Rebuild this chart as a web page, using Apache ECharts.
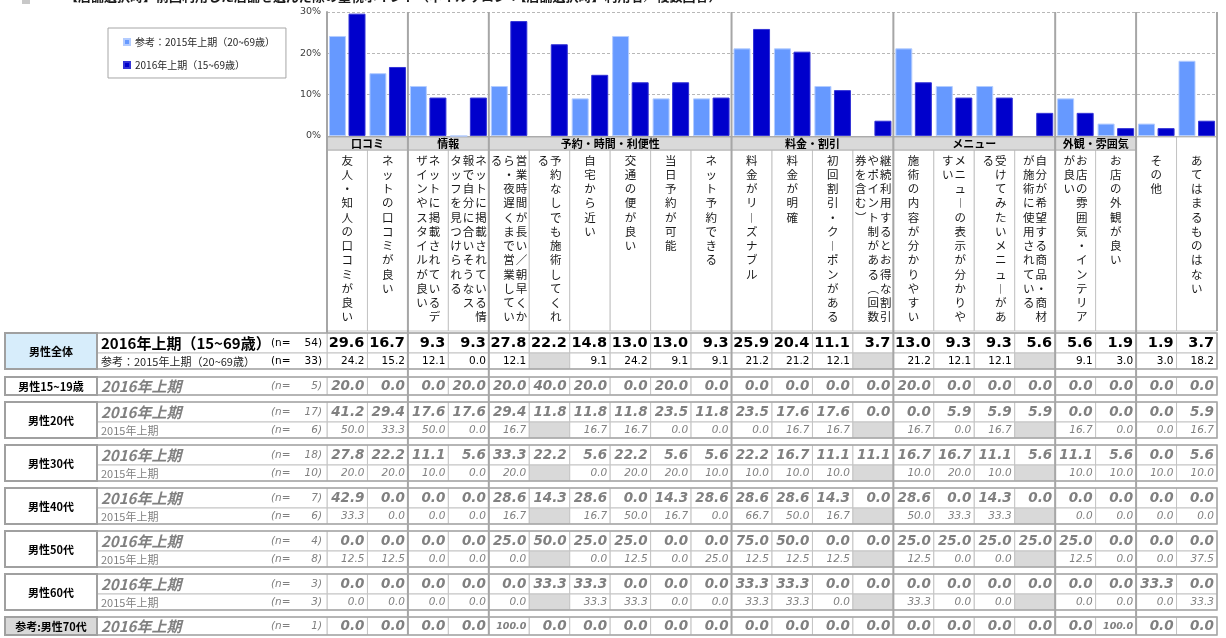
<!DOCTYPE html>
<html>
<head>
<meta charset="utf-8">
<title>店舗選択時に重視したポイント（男性）</title>
<script src="https://cdn.jsdelivr.net/npm/echarts@6/dist/echarts.min.js"></script>
<style>
  html, body { margin: 0; padding: 0; background: #fff; }
  #chart { width: 1226px; height: 638px; }
</style>
</head>
<body>
<div id="chart"></div>
<script>
// 項目（22）
var categories = [
  '友人・知人の口コミが良い',
  'ネットの口コミが良い',
  'ネットに掲載されているデザインやスタイルが良い',
  'ネットに掲載されている情報で自分に合いそうなスタッフを見つけられる',
  '営業時間が長い／朝早くから・夜遅くまで営業している',
  '予約なしでも施術してくれる',
  '自宅から近い',
  '交通の便が良い',
  '当日予約が可能',
  'ネット予約できる',
  '料金がリーズナブル',
  '料金が明確',
  '初回割引・クーポンがある',
  '継続利用するとお得な割引やポイント制がある（回数券を含む）',
  '施術の内容が分かりやすい',
  'メニューの表示が分かりやすい',
  '受けてみたいメニューがある',
  '自分が希望する商品・商材が施術に使用されている',
  'お店の雰囲気・インテリアが良い',
  'お店の外観が良い',
  'その他',
  'あてはまるものはない'
];
// 大項目と項目数（最後の2項目は見出しなし）
var groupNames = ['口コミ', '情報', '予約・時間・利便性', '料金・割引', 'メニュー', '外観・雰囲気', ''];
var groupSizes = [2, 2, 6, 4, 4, 2, 2];

var seriesNames = ['参考：2015年上期（20~69歳）', '2016年上期（15~69歳）'];
var yTicks = [0, 10, 20, 30];

// 男性全体
var all2016 = [29.6, 16.7, 9.3, 9.3, 27.8, 22.2, 14.8, 13.0, 13.0, 9.3, 25.9, 20.4, 11.1, 3.7, 13.0, 9.3, 9.3, 5.6, 5.6, 1.9, 1.9, 3.7];
var all2015 = [24.2, 15.2, 12.1, 0.0, 12.1, null, 9.1, 24.2, 9.1, 9.1, 21.2, 21.2, 12.1, null, 21.2, 12.1, 12.1, null, 9.1, 3.0, 3.0, 18.2];
// 年代別
var m15_2016 = [20.0, 0.0, 0.0, 20.0, 20.0, 40.0, 20.0, 0.0, 20.0, 0.0, 0.0, 0.0, 0.0, 0.0, 20.0, 0.0, 0.0, 0.0, 0.0, 0.0, 0.0, 0.0];
var m20_2016 = [41.2, 29.4, 17.6, 17.6, 29.4, 11.8, 11.8, 11.8, 23.5, 11.8, 23.5, 17.6, 17.6, 0.0, 0.0, 5.9, 5.9, 5.9, 0.0, 0.0, 0.0, 5.9];
var m20_2015 = [50.0, 33.3, 50.0, 0.0, 16.7, null, 16.7, 16.7, 0.0, 0.0, 0.0, 16.7, 16.7, null, 16.7, 0.0, 16.7, null, 16.7, 0.0, 0.0, 16.7];
var m30_2016 = [27.8, 22.2, 11.1, 5.6, 33.3, 22.2, 5.6, 22.2, 5.6, 5.6, 22.2, 16.7, 11.1, 11.1, 16.7, 16.7, 11.1, 5.6, 11.1, 5.6, 0.0, 5.6];
var m30_2015 = [20.0, 20.0, 10.0, 0.0, 20.0, null, 0.0, 20.0, 20.0, 10.0, 10.0, 10.0, 10.0, null, 10.0, 20.0, 10.0, null, 10.0, 10.0, 10.0, 10.0];
var m40_2016 = [42.9, 0.0, 0.0, 0.0, 28.6, 14.3, 28.6, 0.0, 14.3, 28.6, 28.6, 28.6, 14.3, 0.0, 28.6, 0.0, 14.3, 0.0, 0.0, 0.0, 0.0, 0.0];
var m40_2015 = [33.3, 0.0, 0.0, 0.0, 16.7, null, 16.7, 50.0, 16.7, 0.0, 66.7, 50.0, 16.7, null, 50.0, 33.3, 33.3, null, 0.0, 0.0, 0.0, 0.0];
var m50_2016 = [0.0, 0.0, 0.0, 0.0, 25.0, 50.0, 25.0, 25.0, 0.0, 0.0, 75.0, 50.0, 0.0, 0.0, 25.0, 25.0, 25.0, 25.0, 25.0, 0.0, 0.0, 0.0];
var m50_2015 = [12.5, 12.5, 0.0, 0.0, 0.0, null, 0.0, 12.5, 0.0, 25.0, 12.5, 12.5, 12.5, null, 12.5, 0.0, 0.0, null, 12.5, 0.0, 0.0, 37.5];
var m60_2016 = [0.0, 0.0, 0.0, 0.0, 0.0, 33.3, 33.3, 0.0, 0.0, 0.0, 33.3, 33.3, 0.0, 0.0, 0.0, 0.0, 0.0, 0.0, 0.0, 0.0, 33.3, 0.0];
var m60_2015 = [0.0, 0.0, 0.0, 0.0, 0.0, null, 33.3, 33.3, 0.0, 0.0, 33.3, 33.3, 0.0, null, 33.3, 0.0, 0.0, null, 0.0, 0.0, 0.0, 33.3];
var m70_2016 = [0.0, 0.0, 0.0, 0.0, 100.0, 0.0, 0.0, 0.0, 0.0, 0.0, 0.0, 0.0, 0.0, 0.0, 0.0, 0.0, 0.0, 0.0, 0.0, 100.0, 0.0, 0.0];

var segNames = ['男性全体', '男性15~19歳', '男性20代', '男性30代', '男性40代', '男性50代', '男性60代', '参考:男性70代'];
var n2016 = [54, 5, 17, 18, 7, 4, 3, 1];
var n2015 = [33, null, 6, 10, 6, 8, 3, null];

var titleText = '【店舗選択時】前回利用した店舗を選んだ際の重視ポイント（ネイルサロン：【店舗選択時】利用者／複数回答）';

// ---- 表の組み立て ----
var segments = [
  {fill: '#d7edfb', rows: [{label: '2016年上期（15~69歳）', kind: 'main16', vals: all2016}, {label: '参考：2015年上期（20~69歳）', kind: 'main15', vals: all2015}]},
  {fill: '#fff', rows: [{label: '2016年上期', kind: 'sub16', vals: m15_2016}]},
  {fill: '#fff', rows: [{label: '2016年上期', kind: 'sub16', vals: m20_2016}, {label: '2015年上期', kind: 'sub15', vals: m20_2015}]},
  {fill: '#fff', rows: [{label: '2016年上期', kind: 'sub16', vals: m30_2016}, {label: '2015年上期', kind: 'sub15', vals: m30_2015}]},
  {fill: '#fff', rows: [{label: '2016年上期', kind: 'sub16', vals: m40_2016}, {label: '2015年上期', kind: 'sub15', vals: m40_2015}]},
  {fill: '#fff', rows: [{label: '2016年上期', kind: 'sub16', vals: m50_2016}, {label: '2015年上期', kind: 'sub15', vals: m50_2015}]},
  {fill: '#fff', rows: [{label: '2016年上期', kind: 'sub16', vals: m60_2016}, {label: '2015年上期', kind: 'sub15', vals: m60_2015}]},
  {fill: '#d9d9d9', rows: [{label: '2016年上期', kind: 'sub16', vals: m70_2016}]}
];
segments.forEach(function (s, i) {
  s.name = segNames[i];
  s.rows[0].n = n2016[i];
  if (s.rows[1]) s.rows[1].n = n2015[i];
});

var cjk = '"Noto Sans CJK JP", sans-serif';
var num = '"DejaVu Sans", sans-serif';

// 行の上下位置（表の y 軸の単位）
var HEADER_TOP = 137, LABEL_TOP = 150, LABEL_BOTTOM = 331, TABLE_TOP = 333;
var layoutRows = [], layoutBlocks = [];
var yy = TABLE_TOP;
segments.forEach(function (seg, si) {
  var top = yy;
  seg.rows.forEach(function (r, ri) {
    var h = seg.rows.length === 1 ? 18 : (ri === 0 ? 20 : 16);
    layoutRows.push({top: yy, bottom: yy + h, row: r});
    yy += h;
  });
  layoutBlocks.push({top: top, bottom: yy, seg: seg});
  yy += si === 0 ? 8 : 7;
});
var tableBottom = layoutBlocks[layoutBlocks.length - 1].bottom;

var cells = [];
layoutRows.forEach(function (lr, ri) {
  lr.row.vals.forEach(function (v, c) { cells.push({col: c, ri: ri, v: v}); });
});

var groupHeaders = [], boundaries = [], groupOf = [];
var acc = 0;
groupNames.forEach(function (g, i) {
  groupHeaders.push({name: g, from: acc, to: acc + groupSizes[i]});
  for (var k = 0; k < groupSizes[i]; k++) groupOf.push(g);
  acc += groupSizes[i];
  if (acc < categories.length) boundaries.push(acc);
});

// 縦書き用
var noStart = 'ッャュョァィゥェォっゃゅょぁぃぅぇぉー）、。';
var vertForm = {'ー': '︱', '（': '︵', '）': '︶'};
function splitColumns(s) {
  var chars = Array.from(s), cols = [], i = 0;
  while (i < chars.length) {
    var n = Math.min(12, chars.length - i);
    if (i + n < chars.length && noStart.indexOf(chars[i + n]) >= 0) n -= 1;
    cols.push(chars.slice(i, i + n).map(function (ch) { return vertForm[ch] || ch; }));
    i += n;
  }
  return cols;
}

var cellStyles = {
  main16: {size: 14.5, small: 10, weight: 'bold', style: 'normal', color: '#000'},
  main15: {size: 10.5, small: 9, weight: 'normal', style: 'normal', color: '#000'},
  sub16: {size: 13.5, small: 9.5, weight: 'bold', style: 'italic', color: '#808080'},
  sub15: {size: 10.5, small: 9, weight: 'normal', style: 'italic', color: '#808080'}
};
var labelStyles = {
  main16: {size: 15, weight: 'bold', style: 'normal', color: '#000', nColor: '#000', nStyle: 'normal'},
  main15: {size: 11, weight: 'normal', style: 'normal', color: '#262626', nColor: '#000', nStyle: 'normal'},
  sub16: {size: 15, weight: 'bold', style: 'italic', color: '#808080', nColor: '#808080', nStyle: 'italic'},
  sub15: {size: 11, weight: 'normal', style: 'normal', color: '#808080', nColor: '#808080', nStyle: 'italic'}
};

function rect(x0, y0, x1, y1, style) {
  return {type: 'rect', shape: {x: x0, y: y0, width: x1 - x0, height: y1 - y0}, style: style};
}

function renderCell(params, api) {
  var c = cells[params.dataIndex], lr = layoutRows[c.ri];
  var p0 = api.coord([c.col, lr.top]), p1 = api.coord([c.col + 1, lr.bottom]);
  var ch = [rect(p0[0], p0[1], p1[0], p1[1], {fill: c.v == null ? '#d9d9d9' : '#fff', stroke: '#c4c4c4', lineWidth: 1})];
  if (c.v != null) {
    var st = cellStyles[lr.row.kind];
    ch.push({type: 'text', style: {
      x: p1[0] - 3, y: (p0[1] + p1[1]) / 2 + 0.5, text: c.v.toFixed(1), align: 'right', verticalAlign: 'middle',
      fontSize: c.v >= 100 ? st.small : st.size, fontWeight: st.weight, fontStyle: st.style,
      fontFamily: num, fill: st.color
    }});
  }
  return {type: 'group', children: ch};
}

function renderRowLabel(params, api) {
  var lr = layoutRows[params.dataIndex];
  var p0 = api.coord([0, lr.top]), p1 = api.coord([0, lr.bottom]);
  var x0 = p0[0], left = x0 - 230, cy = (p0[1] + p1[1]) / 2 + 0.5;
  var st = labelStyles[lr.row.kind];
  return {type: 'group', children: [
    rect(left, p0[1], x0, p1[1], {fill: '#fff', stroke: '#c4c4c4', lineWidth: 1}),
    {type: 'text', style: {x: left + 4, y: cy, text: lr.row.label, align: 'left', verticalAlign: 'middle',
      fontSize: st.size, fontWeight: st.weight, fontStyle: st.style, fontFamily: cjk, fill: st.color}},
    {type: 'text', style: {x: x0 - 56, y: cy, text: '(n=', align: 'left', verticalAlign: 'middle',
      fontSize: 10.5, fontStyle: st.nStyle, fontFamily: num, fill: st.nColor}},
    {type: 'text', style: {x: x0 - 5, y: cy, text: lr.row.n + ')', align: 'right', verticalAlign: 'middle',
      fontSize: 10.5, fontStyle: st.nStyle, fontFamily: num, fill: st.nColor}}
  ]};
}

function renderBlock(params, api) {
  var b = layoutBlocks[params.dataIndex];
  var p0 = api.coord([0, b.top]), p1 = api.coord([22, b.bottom]);
  var gx0 = 5, gx1 = p0[0] - 230;
  return {type: 'group', children: [
    rect(gx0, p0[1], p1[0], p1[1], {fill: null, stroke: '#a6a6a6', lineWidth: 1.5}),
    rect(gx0, p0[1], gx1, p1[1], {fill: b.seg.fill, stroke: '#a0a0a0', lineWidth: 2}),
    {type: 'text', style: {x: (gx0 + gx1) / 2, y: (p0[1] + p1[1]) / 2 + 0.5, text: b.seg.name, align: 'center',
      verticalAlign: 'middle', fontSize: 11, fontWeight: 'bold', fontFamily: cjk, fill: '#000'}}
  ]};
}

function renderLabelCell(params, api) {
  var i = params.dataIndex;
  var p0 = api.coord([i, groupOf[i] ? LABEL_TOP : HEADER_TOP]), p1 = api.coord([i + 1, LABEL_BOTTOM]);
  var cx = (p0[0] + p1[0]) / 2;
  var cols = splitColumns(categories[i]);
  var ch = [rect(p0[0], p0[1], p1[0], p1[1], {fill: '#fff', stroke: '#c4c4c4', lineWidth: 1})];
  cols.forEach(function (col, j) {
    ch.push({type: 'text', style: {
      x: cx + ((cols.length - 1) / 2 - j) * 12.5, y: LABEL_TOP + 3, text: col.join('\n'),
      align: 'center', verticalAlign: 'top', lineHeight: 14.25, fontSize: 11.5, fontFamily: cjk, fill: '#1a1a1a'
    }});
  });
  return {type: 'group', children: ch};
}

function renderGroupHeader(params, api) {
  var g = groupHeaders[params.dataIndex];
  if (!g.name) return {type: 'group', children: []};
  var p0 = api.coord([g.from, HEADER_TOP]), p1 = api.coord([g.to, LABEL_TOP]);
  return {type: 'group', children: [
    rect(p0[0], p0[1], p1[0], p1[1], {fill: '#d9d9d9', stroke: '#b0b0b0', lineWidth: 1}),
    {type: 'text', style: {x: (p0[0] + p1[0]) / 2, y: (p0[1] + p1[1]) / 2 + 0.5, text: g.name, align: 'center',
      verticalAlign: 'middle', fontSize: 11, fontWeight: 'bold', fontFamily: cjk, fill: '#000'}}
  ]};
}

// 大項目の区切り線
var dividerList = [{x: 0, to: TABLE_TOP}, {x: 22, to: LABEL_BOTTOM}];
boundaries.forEach(function (b) { dividerList.push({x: b, to: tableBottom}); });
function renderDivider(params, api) {
  var d = dividerList[params.dataIndex];
  var p0 = api.coord([d.x, 12]), p1 = api.coord([d.x, d.to]);
  return {type: 'line', shape: {x1: p0[0], y1: p0[1], x2: p1[0], y2: p1[1]}, style: {stroke: '#a6a6a6', lineWidth: 2}};
}

function custom(name, list, fn, z) {
  return {
    type: 'custom', name: name, xAxisIndex: 1, yAxisIndex: 1, z: z, silent: true, clip: false,
    renderItem: fn, data: list.map(function (d, i) { return [i % 22, 1]; })
  };
}

var chart = echarts.init(document.getElementById('chart'));
chart.setOption({
  animation: false,
  backgroundColor: '#fff',
  textStyle: {fontFamily: cjk},
  graphic: [
    {type: 'rect', shape: {x: 22, y: -4, width: 8, height: 8}, style: {fill: '#c8c8c8'}},
    {type: 'text', x: 65, y: -10, style: {text: titleText, fontSize: 13, fontWeight: 'bold', fontFamily: cjk, fill: '#1a1a1a'}}
  ],
  legend: {
    data: seriesNames, orient: 'vertical', left: 108, top: 28,
    padding: [9, 11, 8, 15], itemGap: 13, itemWidth: 6, itemHeight: 6, icon: 'rect',
    borderColor: '#a6a6a6', borderWidth: 1,
    textStyle: {fontSize: 10, color: '#262626', fontFamily: cjk}
  },
  grid: [
    {left: 327, top: 12, width: 890, height: 124, outerBoundsMode: 'none'},
    {left: 327, top: 0, width: 890, height: 638, outerBoundsMode: 'none'}
  ],
  xAxis: [
    {gridIndex: 0, type: 'category', data: categories, boundaryGap: true,
      axisLine: {lineStyle: {color: '#a6a6a6', width: 1}}, axisTick: {show: false}, axisLabel: {show: false}},
    {gridIndex: 1, type: 'value', min: 0, max: 22, show: false}
  ],
  yAxis: [
    {gridIndex: 0, type: 'value', min: yTicks[0], max: yTicks[yTicks.length - 1], interval: yTicks[1] - yTicks[0],
      axisLine: {show: true, lineStyle: {color: '#a6a6a6', width: 2}}, axisTick: {show: false},
      axisLabel: {formatter: function (v) { return v + '%'; }, fontSize: 9.5, color: '#404040', fontFamily: num, margin: 6},
      splitLine: {lineStyle: {color: '#b8b8b8', type: [3, 2], width: 1}}},
    {gridIndex: 1, type: 'value', min: 0, max: 638, inverse: true, show: false}
  ],
  series: [
    {name: seriesNames[0], type: 'bar', xAxisIndex: 0, yAxisIndex: 0, data: all2015, barWidth: 17, barGap: '15%',
      itemStyle: {color: '#6699ff', borderColor: '#b3ccff', borderWidth: 1}},
    {name: seriesNames[1], type: 'bar', xAxisIndex: 0, yAxisIndex: 0, data: all2016, barWidth: 17,
      itemStyle: {color: '#0000cc', borderColor: '#3333d6', borderWidth: 1}},
    custom('labels', categories, renderLabelCell, 1),
    custom('groups', groupHeaders, renderGroupHeader, 2),
    custom('cells', cells, renderCell, 2),
    custom('rowLabels', layoutRows, renderRowLabel, 2),
    custom('blocks', layoutBlocks, renderBlock, 3),
    custom('dividers', dividerList, renderDivider, 4)
  ]
});
</script>
</body>
</html>
